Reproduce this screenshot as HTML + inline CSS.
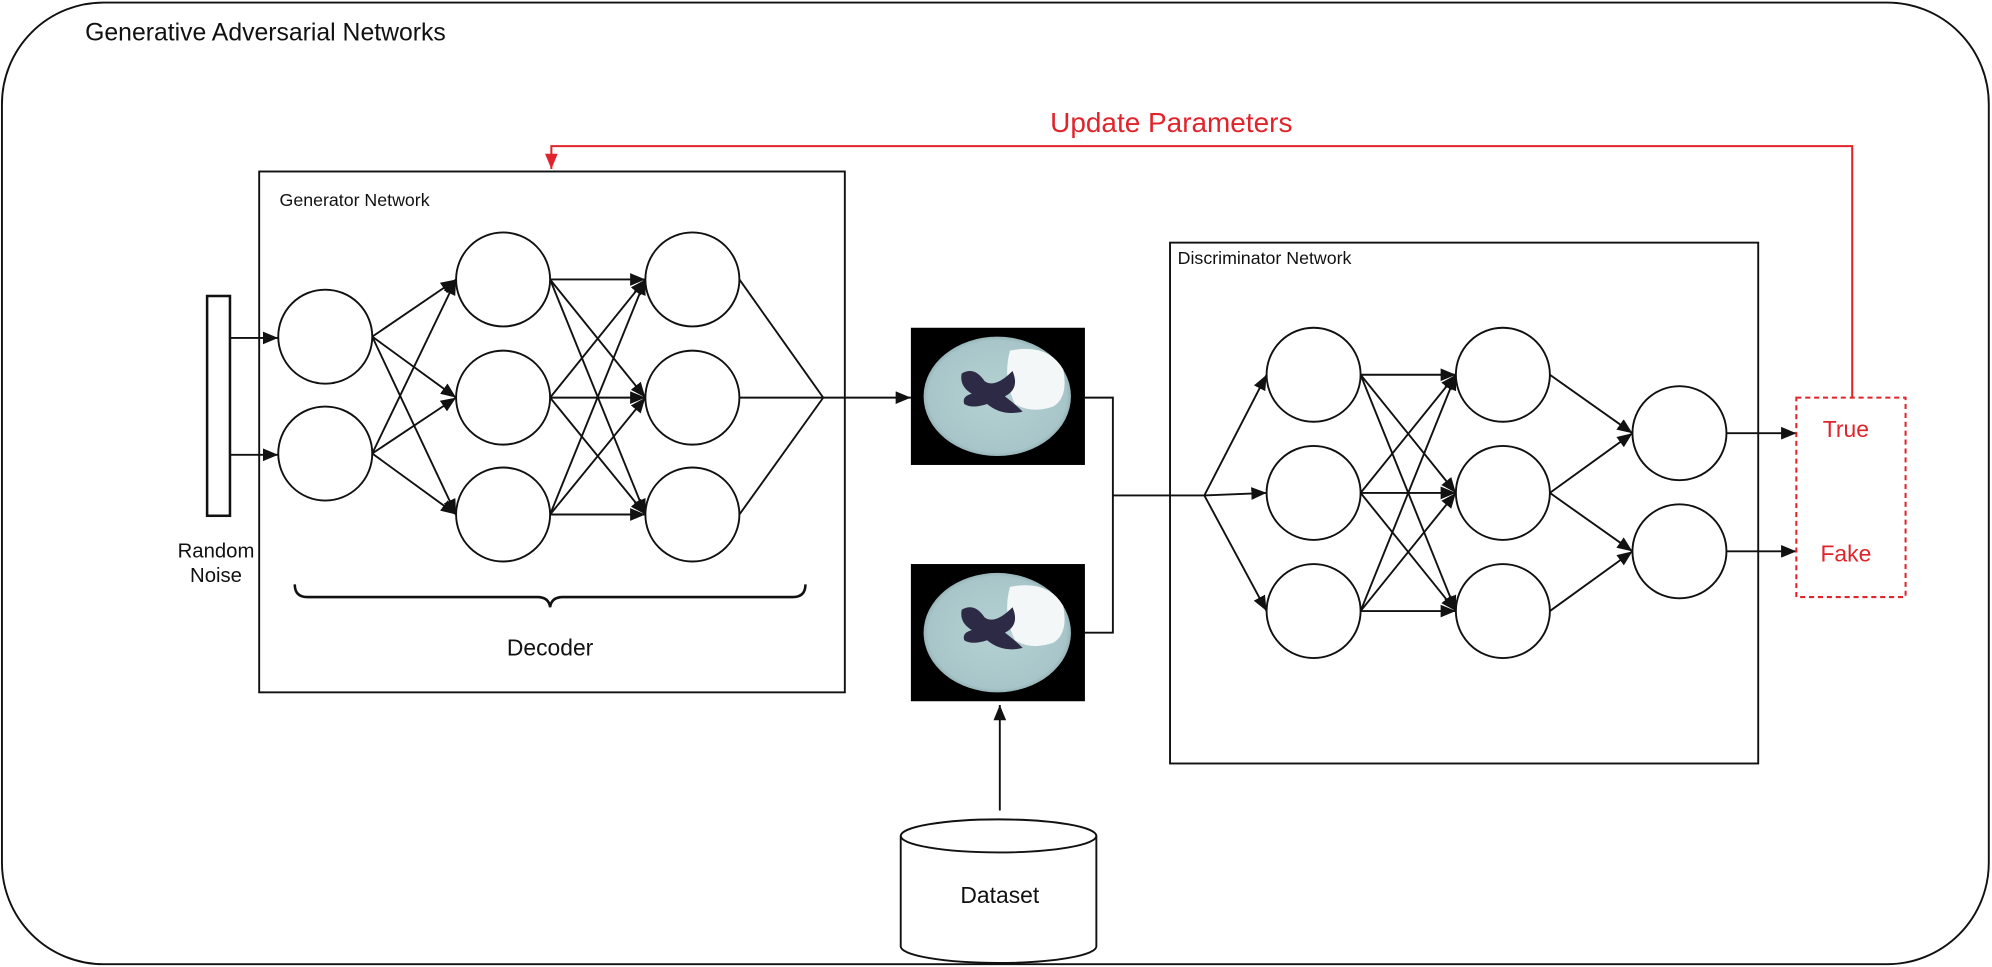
<!DOCTYPE html>
<html><head><meta charset="utf-8"><style>html,body{margin:0;padding:0;background:#fff}svg{display:block}text{font-family:"Liberation Sans",Arial,sans-serif}</style></head>
<body>
<svg width="1992" height="967" viewBox="0 0 1568 761.2" xmlns="http://www.w3.org/2000/svg">
<defs>
<marker id="a" markerWidth="12" markerHeight="10" refX="12" refY="5" orient="auto" markerUnits="userSpaceOnUse"><path d="M0,0 L12,5 L0,10 Z" fill="#111"/></marker>
<marker id="r" markerWidth="12" markerHeight="10" refX="12" refY="5" orient="auto" markerUnits="userSpaceOnUse"><path d="M0,0 L12,5 L0,10 Z" fill="#e0242b"/></marker>
<radialGradient id="bg" cx="50%" cy="50%" r="55%"><stop offset="0" stop-color="#b4d0d2"/><stop offset="0.85" stop-color="#a8c6c9"/><stop offset="1" stop-color="#7d9a9e"/></radialGradient>
<g id="brain">
<rect x="0" y="0" width="137" height="108" fill="#000"/>
<ellipse cx="68" cy="54" rx="58" ry="47" fill="url(#bg)"/>
<path d="M78,18 Q108,12 120,33 Q124,55 112,62 Q95,68 82,60 Q72,40 78,18Z" fill="#f4f7f7"/>
<path d="M40,36 Q50,30 58,42 Q66,48 80,34 Q86,48 74,54 Q82,60 88,66 Q72,70 60,60 Q48,64 42,60 Q40,54 48,52 Q38,46 40,36Z" fill="#2c2a44"/>
</g>
</defs>
<rect x="1.5" y="2" width="1564" height="757" rx="80" fill="none" stroke="#111" stroke-width="1.5"/>
<text x="67" y="32" font-size="19.5" fill="#111">Generative Adversarial Networks</text>
<text x="922" y="104" font-size="22" fill="#e0242b" text-anchor="middle">Update Parameters</text>
<polyline points="1458,313 1458,115 434,115 434,133" fill="none" stroke="#e0242b" stroke-width="1.6" marker-end="url(#r)"/>
<rect x="204" y="135" width="461" height="410" fill="none" stroke="#111" stroke-width="1.5"/>
<text x="220" y="162" font-size="14" fill="#111">Generator Network</text>
<rect x="163" y="233" width="18" height="173" fill="none" stroke="#111" stroke-width="2"/>
<text x="170" y="439" font-size="16" text-anchor="middle" fill="#111">Random</text>
<text x="170" y="458" font-size="16" text-anchor="middle" fill="#111">Noise</text>
<g stroke="#111" stroke-width="1.5" fill="none">
<line x1="181" y1="266" x2="219" y2="266" marker-end="url(#a)"/>
<line x1="181" y1="358" x2="219" y2="358" marker-end="url(#a)"/>
<line x1="293" y1="265" x2="359" y2="220" marker-end="url(#a)"/>
<line x1="293" y1="265" x2="359" y2="313" marker-end="url(#a)"/>
<line x1="293" y1="265" x2="359" y2="405" marker-end="url(#a)"/>
<line x1="293" y1="357" x2="359" y2="220" marker-end="url(#a)"/>
<line x1="293" y1="357" x2="359" y2="313" marker-end="url(#a)"/>
<line x1="293" y1="357" x2="359" y2="405" marker-end="url(#a)"/>
<line x1="433" y1="220" x2="508" y2="220" marker-end="url(#a)"/>
<line x1="433" y1="220" x2="508" y2="313" marker-end="url(#a)"/>
<line x1="433" y1="220" x2="508" y2="405" marker-end="url(#a)"/>
<line x1="433" y1="313" x2="508" y2="220" marker-end="url(#a)"/>
<line x1="433" y1="313" x2="508" y2="313" marker-end="url(#a)"/>
<line x1="433" y1="313" x2="508" y2="405" marker-end="url(#a)"/>
<line x1="433" y1="405" x2="508" y2="220" marker-end="url(#a)"/>
<line x1="433" y1="405" x2="508" y2="313" marker-end="url(#a)"/>
<line x1="433" y1="405" x2="508" y2="405" marker-end="url(#a)"/>
<line x1="582" y1="220" x2="648" y2="313"/>
<line x1="582" y1="313" x2="648" y2="313"/>
<line x1="582" y1="405" x2="648" y2="313"/>
<line x1="648" y1="313" x2="717" y2="313" marker-end="url(#a)"/>
<path d="M232,460 Q232,470 242,470 L423,470 Q432,470 433,478 Q434,470 443,470 L624,470 Q634,470 634,460" stroke-width="2"/>
<polyline points="854,313 876,313 876,498 854,498"/>
<line x1="876" y1="390" x2="948" y2="390"/>
<line x1="948" y1="390" x2="997" y2="295" marker-end="url(#a)"/>
<line x1="948" y1="390" x2="997" y2="388" marker-end="url(#a)"/>
<line x1="948" y1="390" x2="997" y2="481" marker-end="url(#a)"/>
<line x1="1071" y1="295" x2="1146" y2="295" marker-end="url(#a)"/>
<line x1="1071" y1="295" x2="1146" y2="388" marker-end="url(#a)"/>
<line x1="1071" y1="295" x2="1146" y2="481" marker-end="url(#a)"/>
<line x1="1071" y1="388" x2="1146" y2="295" marker-end="url(#a)"/>
<line x1="1071" y1="388" x2="1146" y2="388" marker-end="url(#a)"/>
<line x1="1071" y1="388" x2="1146" y2="481" marker-end="url(#a)"/>
<line x1="1071" y1="481" x2="1146" y2="295" marker-end="url(#a)"/>
<line x1="1071" y1="481" x2="1146" y2="388" marker-end="url(#a)"/>
<line x1="1071" y1="481" x2="1146" y2="481" marker-end="url(#a)"/>
<line x1="1220" y1="295" x2="1285" y2="341" marker-end="url(#a)"/>
<line x1="1220" y1="388" x2="1285" y2="341" marker-end="url(#a)"/>
<line x1="1220" y1="388" x2="1285" y2="434" marker-end="url(#a)"/>
<line x1="1220" y1="481" x2="1285" y2="434" marker-end="url(#a)"/>
<line x1="1359" y1="341" x2="1414" y2="341" marker-end="url(#a)"/>
<line x1="1359" y1="434" x2="1414" y2="434" marker-end="url(#a)"/>
<line x1="787" y1="638" x2="787" y2="555" marker-end="url(#a)"/>
<circle cx="256" cy="265" r="37" fill="#fff"/><circle cx="256" cy="357" r="37" fill="#fff"/>
<circle cx="396" cy="220" r="37" fill="#fff"/><circle cx="396" cy="313" r="37" fill="#fff"/><circle cx="396" cy="405" r="37" fill="#fff"/>
<circle cx="545" cy="220" r="37" fill="#fff"/><circle cx="545" cy="313" r="37" fill="#fff"/><circle cx="545" cy="405" r="37" fill="#fff"/>
<circle cx="1034" cy="295" r="37" fill="#fff"/><circle cx="1034" cy="388" r="37" fill="#fff"/><circle cx="1034" cy="481" r="37" fill="#fff"/>
<circle cx="1183" cy="295" r="37" fill="#fff"/><circle cx="1183" cy="388" r="37" fill="#fff"/><circle cx="1183" cy="481" r="37" fill="#fff"/>
<circle cx="1322" cy="341" r="37" fill="#fff"/><circle cx="1322" cy="434" r="37" fill="#fff"/>
<rect x="921" y="191" width="463" height="410"/>
<path d="M709,658 L709,745 A77,13 0 0 0 863,745 L863,658"/>
<ellipse cx="786" cy="658" rx="77" ry="13"/>
</g>
<text x="433" y="516" font-size="18" text-anchor="middle" fill="#111">Decoder</text>
<text x="927" y="208" font-size="14" fill="#111">Discriminator Network</text>
<text x="787" y="711" font-size="18" text-anchor="middle" fill="#111">Dataset</text>
<use href="#brain" x="717" y="258"/>
<use href="#brain" x="717" y="444"/>
<rect x="1414" y="313" width="86" height="157" fill="none" stroke="#e0242b" stroke-width="1.6" stroke-dasharray="4,3"/>
<text x="1453" y="344" font-size="18" fill="#e0242b" text-anchor="middle">True</text>
<text x="1453" y="442" font-size="18" fill="#e0242b" text-anchor="middle">Fake</text>
</svg>
</body></html>
